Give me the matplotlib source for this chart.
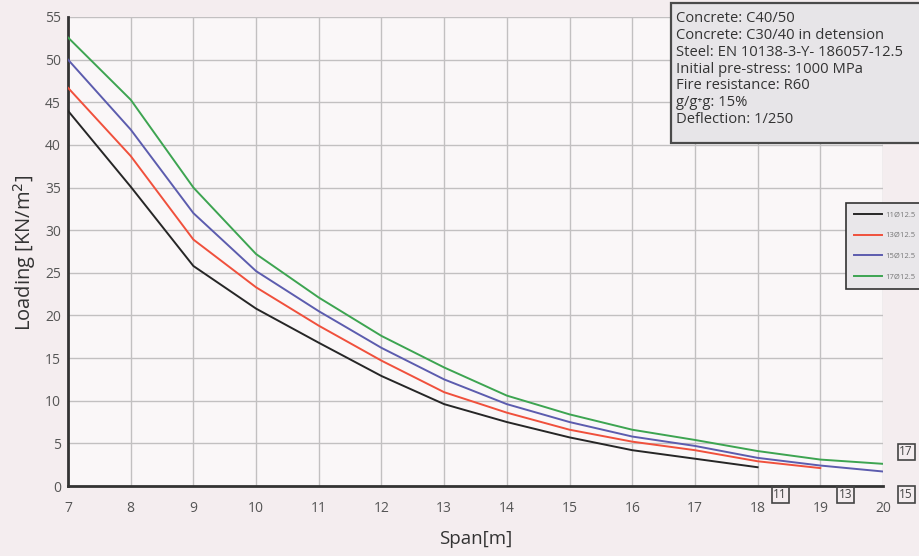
import matplotlib
matplotlib.use("Agg")
import matplotlib.pyplot as plt
from matplotlib.patches import Rectangle

plt.rcParams['font.family'] = ['Open Sans', 'DejaVu Sans']

# ---- data ----
span_11 = [7, 8, 9, 10, 11, 12, 13, 14, 15, 16, 17, 18]
load_11 = [44.0, 35.1, 25.8, 20.8, 16.8, 12.9, 9.6, 7.5, 5.7, 4.2, 3.2, 2.2]
span_13 = [7, 8, 9, 10, 11, 12, 13, 14, 15, 16, 17, 18, 19]
load_13 = [46.7, 38.7, 28.9, 23.3, 18.8, 14.7, 11.0, 8.6, 6.6, 5.2, 4.2, 2.9, 2.1]
span_15 = [7, 8, 9, 10, 11, 12, 13, 14, 15, 16, 17, 18, 19, 20]
load_15 = [50.0, 41.8, 32.0, 25.2, 20.5, 16.2, 12.5, 9.6, 7.5, 5.8, 4.7, 3.3, 2.4, 1.7]
span_17 = [7, 8, 9, 10, 11, 12, 13, 14, 15, 16, 17, 18, 19, 20]
load_17 = [52.6, 45.3, 35.0, 27.2, 22.1, 17.6, 13.9, 10.6, 8.4, 6.6, 5.4, 4.1, 3.1, 2.6]

series_labels = ["11Ø12.5", "13Ø12.5", "15Ø12.5", "17Ø12.5"]
end_tags = ["11", "13", "15", "17"]
x_ticks = list(range(7, 21))
y_ticks = list(range(0, 56, 5))

info_lines = [
    "Concrete: C40/50",
    "Concrete: C30/40 in detension",
    "Steel: EN 10138-3-Y- 186057-12.5",
    "Initial pre-stress: 1000 MPa",
    "Fire resistance: R60",
    "g/g\u207ag: 15%",
    "Deflection: 1/250",
]

colors = ["#262626", "#f0503c", "#5c5cae", "#3da451"]

# ---- figure ----
W, H = 919, 556
fig = plt.figure(figsize=(W / 100, H / 100), dpi=100)
fig.patch.set_facecolor("#f4edef")

left, right, top, bottom = 68, 883, 17, 486
ax = fig.add_axes([left / W, 1 - bottom / H, (right - left) / W, (bottom - top) / H])
ax.set_facecolor("#faf7f8")

for xs, ys, c, lab in zip([span_11, span_13, span_15, span_17],
                          [load_11, load_13, load_15, load_17],
                          colors, series_labels):
    ax.plot(xs, ys, color=c, lw=1.4, label=lab, zorder=3)

ax.set_xlim(7, 20)
ax.set_ylim(0, 55)
ax.set_xticks(x_ticks)
ax.set_yticks(y_ticks)
ax.grid(True, color="#c2c0c1", lw=1.0, zorder=0)
ax.tick_params(length=0, labelsize=10, labelcolor="#555555")
ax.tick_params(axis="x", pad=11)
ax.tick_params(axis="y", pad=5)
for s in ["top", "right"]:
    ax.spines[s].set_visible(False)
for s in ["left", "bottom"]:
    ax.spines[s].set_color("#333333")
    ax.spines[s].set_linewidth(2)

ax.set_xlabel("Span[m]", fontsize=13.5, color="#333333")
ax.xaxis.set_label_coords(0.5, (bottom - 530) / (bottom - top))
ax.set_ylabel("Loading [KN/m$^2$]", fontsize=14.5, color="#333333")
ax.yaxis.set_label_coords((38 - left) / (right - left), (bottom - 253) / (bottom - top))

# end tags
tag_pos = [(18.36, -1.0), (19.4, -1.0), (20.37, -1.0), (20.37, 4.0)]
for t, (tx, ty) in zip(end_tags, tag_pos):
    ax.text(tx, ty, t, fontsize=8.5, color="#444444", ha="center", va="center",
            clip_on=False,
            bbox=dict(boxstyle="square,pad=0.15", fc="none", ec="#444444", lw=1.2))

# info box
fig.patches.append(Rectangle((671 / W, 1 - 143 / H), (W - 671) / W + 0.01, 140 / H,
                             transform=fig.transFigure, fc="#e7e5e8", ec="#4a4a4a",
                             lw=1.6, zorder=5))
fig.text(676 / W, 1 - 11 / H, "\n".join(info_lines), fontsize=10.6, color="#333333",
         ha="left", va="top", linespacing=1.17, zorder=6)

# legend
leg = fig.legend(loc="upper left", bbox_to_anchor=(842 / W, 1 - 199 / H),
                 fontsize=5.5, frameon=True, fancybox=False, handlelength=3.6,
                 labelspacing=1.75, borderpad=1.1, handletextpad=0.5,
                 labelcolor="#777777")
leg.get_frame().set_facecolor("#e9e7ea")
leg.get_frame().set_edgecolor("#333333")
leg.get_frame().set_linewidth(1.2)
leg.get_frame().set_alpha(1)

fig.savefig("out.png", dpi=100, facecolor=fig.get_facecolor())
